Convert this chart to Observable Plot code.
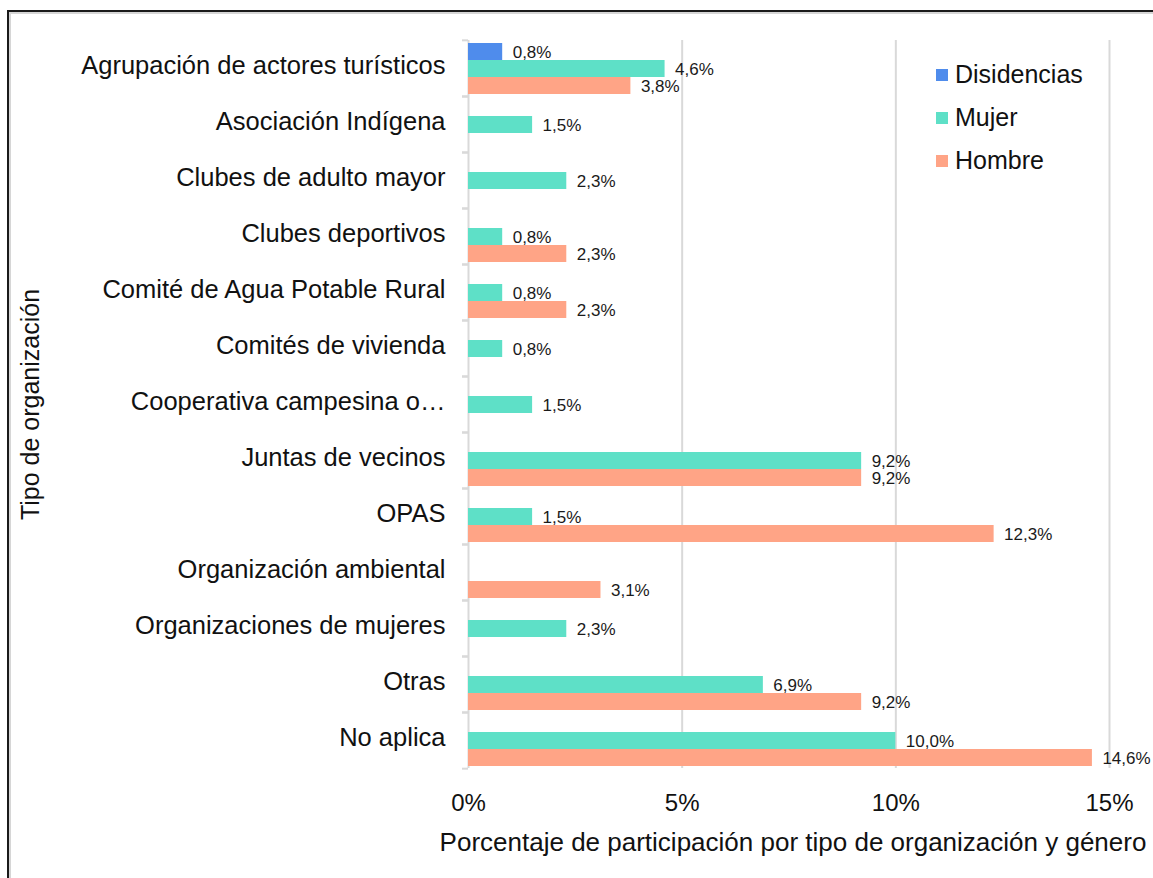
<!DOCTYPE html>
<html>
<head>
<meta charset="utf-8">
<script src="https://cdn.jsdelivr.net/npm/d3@7"></script>
<script src="https://cdn.jsdelivr.net/npm/@observablehq/plot@0.6"></script>
<style>
  html, body { margin: 0; padding: 0; background: #fff; overflow: hidden; }
  #wrap { position: relative; width: 1153px; height: 878px; font-family: "Liberation Sans", Arial, sans-serif; }
  #frame { position: absolute; left: 7px; top: 10px; width: 1300px; height: 1000px;
           border-top: 2px solid #1a1a1a; border-left: 2px solid #1a1a1a;
           box-shadow: inset 2px 2px 0 #d6d6d6; }
  #chart { position: absolute; left: 0; top: 0; }
  #legend { position: absolute; left: 936px; top: 53px; font-size: 25px; color: #111; background: #fff; }
  .item { display: flex; align-items: center; height: 43px; }
  .sw { width: 12px; height: 12px; margin-right: 7px; }
</style>
</head>
<body>
<div id="wrap">
  <div id="frame"></div>
  <div id="chart"></div>
  <div id="legend"></div>
</div>
<script>
const categories = [
  "Agrupación de actores turísticos",
  "Asociación Indígena",
  "Clubes de adulto mayor",
  "Clubes deportivos",
  "Comité de Agua Potable Rural",
  "Comités de vivienda",
  "Cooperativa campesina o…",
  "Juntas de vecinos",
  "OPAS",
  "Organización ambiental",
  "Organizaciones de mujeres",
  "Otras",
  "No aplica"
];
const seriesNames = ["Disidencias", "Mujer", "Hombre"];
const seriesColors = ["#4f8cec", "#5ee0c7", "#ffa486"];
const disidencias = [0.8, null, null, null, null, null, null, null, null, null, null, null, null];
const mujer       = [4.6, 1.5, 2.3, 0.8, 0.8, 0.8, 1.5, 9.2, 1.5, null, 2.3, 6.9, 10.0];
const hombre      = [3.8, null, null, 2.3, 2.3, null, null, 9.2, 12.3, 3.1, null, 9.2, 14.6];
const xTicks = [0, 5, 10, 15];
const xTitle = "Porcentaje de participación por tipo de organización y género";
const yTitle = "Tipo de organización";

const seriesValues = [disidencias, mujer, hombre];
const data = [];
categories.forEach((c, i) => {
  seriesNames.forEach((s, j) => {
    const v = seriesValues[j][i];
    if (v != null) data.push({category: c, series: s, value: v});
  });
});

const W = 1153, H = 878, mt = 37, mb = 108, ml = 468, mr = 44;
const half = (H - mt - mb) / categories.length / 2;
const fmt = v => v.toFixed(1).replace(".", ",") + "%";
const FONT = "Liberation Sans, Arial, sans-serif";

const chart = Plot.plot({
  width: W, height: H,
  marginLeft: ml, marginRight: mr, marginTop: mt, marginBottom: mb,
  style: {fontFamily: FONT, background: "transparent", color: "#111", overflow: "visible"},
  x: {domain: [0, 15]},
  y: {domain: seriesNames, paddingInner: 0, paddingOuter: 0.12, axis: null},
  fy: {domain: categories, padding: 0, axis: null},
  color: {domain: seriesNames, range: seriesColors},
  marks: [
    Plot.ruleX(xTicks, {stroke: "#d9d9d9", strokeWidth: 2}),
    Plot.barX(data, {x: "value", y: "series", fy: "category", fill: "series"}),
    Plot.text(data, {x: "value", y: "series", fy: "category", text: d => fmt(d.value),
      textAnchor: "start", dx: 10, dy: 1, fontSize: 17, fill: "#1a1a1a", fontFamily: FONT}),
    Plot.axisX({anchor: "bottom", ticks: xTicks, tickFormat: d => d + "%", tickSize: 0, tickPadding: 25,
      fontSize: 24, label: xTitle, labelAnchor: "center", labelOffset: 82, labelArrow: "none"}),
    Plot.axisFy({anchor: "left", tickSize: 0, tickPadding: 23, fontSize: 25.5, dy: -3, label: null}),
    Plot.axisFy({anchor: "left", tickSize: 6, tickFormat: () => "", dy: half, stroke: "#d9d9d9", strokeWidth: 2, label: null}),
    Plot.axisFy({anchor: "left", tickSize: 6, tickFormat: () => "", dy: -half, stroke: "#d9d9d9", strokeWidth: 2, label: null}),
    Plot.text([yTitle], {text: d => d, frameAnchor: "left", textAnchor: "middle", rotate: -90, dx: -438, facet: "super",
      fontSize: 25, fill: "#111", fontFamily: FONT})
  ]
});
document.getElementById("chart").appendChild(chart);

// slightly larger x-axis title, as in the reference
chart.querySelectorAll("text").forEach(t => {
  if (t.textContent === xTitle) { t.setAttribute("font-size", 26); t.setAttribute("dx", 4); }
});

const legend = document.getElementById("legend");
seriesNames.forEach((s, j) => {
  const it = document.createElement("div");
  it.className = "item";
  const sw = document.createElement("span");
  sw.className = "sw";
  sw.style.background = seriesColors[j];
  const tx = document.createElement("span");
  tx.textContent = s;
  it.appendChild(sw); it.appendChild(tx);
  legend.appendChild(it);
});
</script>
</body>
</html>
